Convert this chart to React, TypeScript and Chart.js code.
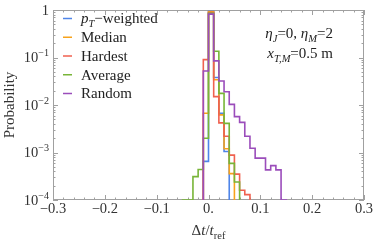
import React, { useEffect, useRef } from "react";
import { Chart, registerables } from "chart.js";
Chart.register(...registerables);

// ---- data (bin width 0.01, values are probabilities per bin) ----
const binWidth = 0.01;
const pTWeightedStart = -0.01;
const pTWeighted = [0.00065, 0.95, 0.038, 0.0067, 0.00105];
const medianStart = -0.01;
const median = [0.0067, 0.93, 0.034, 0.0062, 0.0012, 0.00036];
const hardestStart = -0.01;
const hardest = [0.09, 0.88, 0.015, 0.0042, 0.0022, 0.00088, 0.00035, 0.00016, 0.00013];
const averageStart = -0.05;
const average = [0.0001, 0.0001, 0.00031, 0.00044, 0.002, 0.85, 0.135, 0.0176, 0.0041, 0.00059, 0.00024];
const randomStart = -0.01;
const random = [0.052, 0.82, 0.085, 0.032, 0.019, 0.0103, 0.0057, 0.0043, 0.0022, 0.00123, 0.00076, 0.00076, 0.00043, 0.00053, 0.00043, 0.0001];

const seriesColors = ["#4f85e8", "#f7a21b", "#f0614f", "#78b538", "#9b4dbb"];

const xTickValues = [-0.3, -0.2, -0.1, 0, 0.1, 0.2, 0.3];
const xTickLabels = ["\u22120.3", "\u22120.2", "\u22120.1", "0.", "0.1", "0.2", "0.3"];
const xMinorStep = 0.02;
const yTickExponents = [-4, -3, -2, -1, 0];
const yTickLabels: [string, string][] = [["10", "\u22124"], ["10", "\u22123"], ["10", "\u22122"], ["10", "\u22121"], ["1", ""]];

type Seg = { t: string; i?: boolean; sub?: boolean; sup?: boolean };
const legendLabels: Seg[][] = [
  [{ t: "p", i: true }, { t: "T", i: true, sub: true }, { t: "\u2212weighted" }],
  [{ t: "Median" }],
  [{ t: "Hardest" }],
  [{ t: "Average" }],
  [{ t: "Random" }],
];
const noteLine1: Seg[] = [{ t: "\u03b7", i: true }, { t: "J", i: true, sub: true }, { t: "=0, " }, { t: "\u03b7", i: true }, { t: "M", i: true, sub: true }, { t: "=2" }];
const noteLine2: Seg[] = [{ t: "x", i: true }, { t: "T,M", i: true, sub: true }, { t: "=0.5 m" }];
const xTitle: Seg[] = [{ t: "\u0394" }, { t: "t", i: true }, { t: "/" }, { t: "t", i: true }, { t: "ref", sub: true }];
const yTitle = "Probability";

const FLOOR = 1e-5;
const FONT = '"Liberation Serif", "DejaVu Serif", serif';

function histPoints(start: number, values: number[]) {
  const pts = [{ x: start, y: FLOOR }];
  values.forEach((v, i) => pts.push({ x: start + i * binWidth, y: v }));
  pts.push({ x: start + values.length * binWidth, y: FLOOR });
  return pts;
}

function segFont(s: Seg, size: number) {
  const sz = s.sub || s.sup ? size * 0.7 : size;
  return `${s.i ? "italic " : ""}${sz}px ${FONT}`;
}
function measureRich(ctx: CanvasRenderingContext2D, segs: Seg[], size: number) {
  let w = 0;
  for (const s of segs) {
    ctx.font = segFont(s, size);
    w += ctx.measureText(s.t).width;
  }
  return w;
}
function drawRich(ctx: CanvasRenderingContext2D, segs: Seg[], x: number, cy: number, size: number, align: "left" | "right" | "center") {
  const w = measureRich(ctx, segs, size);
  let cx = align === "left" ? x : align === "right" ? x - w : x - w / 2;
  const base = cy + size * 0.33;
  ctx.textAlign = "left";
  ctx.textBaseline = "alphabetic";
  for (const s of segs) {
    ctx.font = segFont(s, size);
    const dy = s.sub ? size * 0.25 : s.sup ? -size * 0.42 : 0;
    ctx.fillText(s.t, cx, base + dy);
    cx += ctx.measureText(s.t).width;
  }
}

const framePlugin = {
  id: "framePlugin",
  beforeDatasetsDraw(chart: any) {
    const { ctx, chartArea: a, scales } = chart;
    const xs = scales.x, ys = scales.y;
    ctx.save();
    ctx.strokeStyle = "#a0a0a0";
    ctx.lineWidth = 1;
    ctx.strokeRect(Math.round(a.left) + 0.5, Math.round(a.top) + 0.5, Math.round(a.right - a.left) - 1, Math.round(a.bottom - a.top) - 1);
    ctx.beginPath();
    const xMinor: number[] = [];
    for (let k = Math.round(xTickValues[0] / xMinorStep); k <= Math.round(xTickValues[xTickValues.length - 1] / xMinorStep); k++) xMinor.push(k * xMinorStep);
    const tickX = (v: number, len: number) => {
      const px = Math.round(xs.getPixelForValue(v)) + 0.5;
      ctx.moveTo(px, a.bottom); ctx.lineTo(px, a.bottom - len);
      ctx.moveTo(px, a.top); ctx.lineTo(px, a.top + len);
    };
    xMinor.forEach((v) => tickX(v, 2.5));
    xTickValues.forEach((v) => tickX(v, 5));
    const tickY = (v: number, len: number) => {
      const py = Math.round(ys.getPixelForValue(v)) + 0.5;
      ctx.moveTo(a.left, py); ctx.lineTo(a.left + len, py);
      ctx.moveTo(a.right, py); ctx.lineTo(a.right - len, py);
    };
    yTickExponents.forEach((e) => {
      tickY(Math.pow(10, e), 5);
      if (e < 0) for (let m = 2; m <= 9; m++) tickY(m * Math.pow(10, e), 2.5);
    });
    ctx.stroke();
    ctx.restore();
  },
  afterDatasetsDraw(chart: any) {
    const { ctx, chartArea: a, scales } = chart;
    const xs = scales.x, ys = scales.y;
    ctx.save();
    ctx.fillStyle = "#333333";
    // x tick labels
    xTickValues.forEach((v, i) => {
      drawRich(ctx, [{ t: xTickLabels[i] }], xs.getPixelForValue(v), a.bottom + 8.5, 14.5, "center");
    });
    // y tick labels
    yTickExponents.forEach((e, i) => {
      const [b, s] = yTickLabels[i];
      const segs: Seg[] = s ? [{ t: b }, { t: s, sup: true }] : [{ t: b }];
      drawRich(ctx, segs, a.left - 4, ys.getPixelForValue(Math.pow(10, e)), 14.5, "right");
    });
    // axis titles
    drawRich(ctx, xTitle, (a.left + a.right) / 2, 230, 15, "center");
    ctx.save();
    ctx.translate(9, (a.top + a.bottom) / 2);
    ctx.rotate(-Math.PI / 2);
    drawRich(ctx, [{ t: yTitle }], 0, 0, 15, "center");
    ctx.restore();
    // legend
    legendLabels.forEach((segs, i) => {
      const cy = 18.5 + i * 18.75;
      ctx.strokeStyle = seriesColors[i];
      ctx.lineWidth = 1.5;
      ctx.beginPath();
      ctx.moveTo(63, cy); ctx.lineTo(72, cy);
      ctx.stroke();
      ctx.fillStyle = "#222222";
      drawRich(ctx, segs, 81, cy, 15, "left");
    });
    // annotation
    ctx.fillStyle = "#222222";
    drawRich(ctx, noteLine1, 333, 33, 15, "right");
    drawRich(ctx, noteLine2, 333, 53, 15, "right");
    ctx.restore();
  },
};

export default function App() {
  const ref = useRef<HTMLCanvasElement | null>(null);
  useEffect(() => {
    if (!ref.current) return;
    const mk = (label: string, start: number, vals: number[], color: string, order: number) => ({
      label,
      data: histPoints(start, vals),
      borderColor: color,
      backgroundColor: color,
      borderWidth: 1.6,
      pointRadius: 0,
      fill: false,
      stepped: "before" as const,
      order,
    });
    const chart = new Chart(ref.current, {
      type: "line",
      data: {
        datasets: [
          mk("pT-weighted", pTWeightedStart, pTWeighted, seriesColors[0], 4),
          mk("Median", medianStart, median, seriesColors[1], 3),
          mk("Hardest", hardestStart, hardest, seriesColors[2], 2),
          mk("Average", averageStart, average, seriesColors[3], 1),
          mk("Random", randomStart, random, seriesColors[4], 0),
        ],
      },
      options: {
        animation: false,
        responsive: false,
        devicePixelRatio: 1,
        layout: { padding: { left: 53, right: 10, top: 10, bottom: 43 } },
        plugins: { legend: { display: false }, tooltip: { enabled: false } },
        scales: {
          x: { type: "linear", min: -0.3, max: 0.3, display: false },
          y: { type: "logarithmic", min: 1e-4, max: 1, display: false },
        },
      },
      plugins: [framePlugin],
    });
    return () => chart.destroy();
  }, []);
  return (
    <div style={{ position: "absolute", left: 0, top: 0, width: 374, height: 243, background: "#fff" }}>
      <canvas ref={ref} width={374} height={243} style={{ display: "block" }} />
    </div>
  );
}
